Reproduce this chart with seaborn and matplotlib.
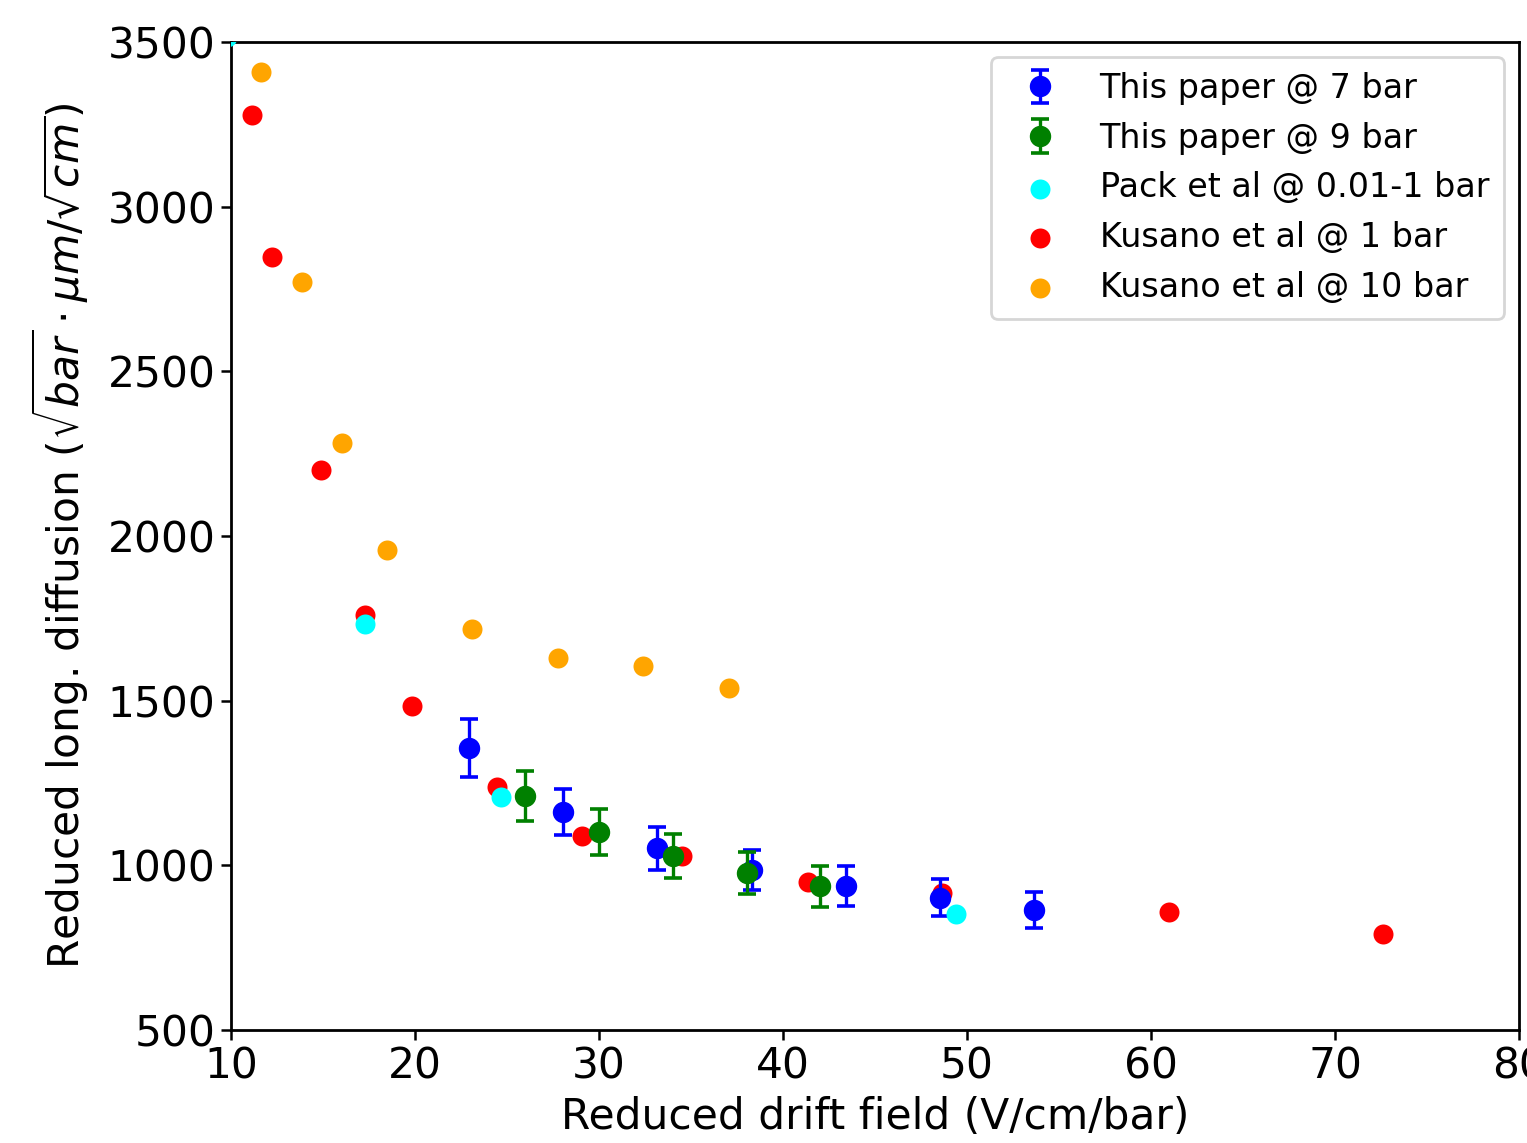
import matplotlib
matplotlib.use("Agg")
import matplotlib.pyplot as plt
import seaborn as sns
import numpy as np
import pandas as pd

# ---- data ----
p7_x = [22.93, 28.04, 33.15, 38.30, 43.42, 48.53, 53.64]
p7_y = [1356, 1162, 1052, 986, 937, 901, 864]
p7_err = [88, 71, 65, 62, 60, 56, 55]

p9_x = [25.98, 30.00, 34.02, 38.04, 42.00]
p9_y = [1210, 1101, 1028, 976, 937]
p9_err = [76, 70, 67, 64, 62]

pack_x = [9.78, 17.28, 24.67, 49.40]
pack_y = [3514, 1733, 1207, 852]

kus1_x = [11.14, 12.23, 14.89, 17.28, 19.84, 24.46, 29.08, 34.50, 41.36, 48.64, 60.98, 72.60]
kus1_y = [3278, 2847, 2200, 1760, 1484, 1238, 1089, 1028, 949, 916, 858, 791]

kus10_x = [11.63, 13.86, 16.03, 18.48, 23.10, 27.77, 32.39, 37.07]
kus10_y = [3409, 2771, 2282, 1957, 1717, 1629, 1605, 1538]

labels = ["This paper @ 7 bar", "This paper @ 9 bar", "Pack et al @ 0.01-1 bar",
          "Kusano et al @ 1 bar", "Kusano et al @ 10 bar"]
xticks = [10, 20, 30, 40, 50, 60, 70, 80]
yticks = [500, 1000, 1500, 2000, 2500, 3000, 3500]

sns.set_style("ticks")
plt.rcParams['font.family'] = ['DejaVu Sans']
plt.rcParams['mathtext.fontset'] = 'dejavusans'
for k in ['text.color', 'axes.labelcolor', 'xtick.color', 'ytick.color', 'axes.edgecolor']:
    plt.rcParams[k] = 'black'

fig = plt.figure(figsize=(15.27, 11.43), dpi=100)
ax = fig.add_axes([231/1527, 1 - 1030/1143, (1519-231)/1527, (1030-42)/1143])

ms = 14.4
s = ms**2

h7 = ax.errorbar(p7_x, p7_y, yerr=p7_err, fmt='o', color='blue', ms=ms,
                 elinewidth=2.4, capsize=6.5, capthick=2.6, zorder=2, label=labels[0])
h9 = ax.errorbar(p9_x, p9_y, yerr=p9_err, fmt='o', color='green', ms=ms,
                 elinewidth=2.4, capsize=6.5, capthick=2.6, zorder=2.1, label=labels[1])

df_pack = pd.DataFrame({"x": pack_x, "y": pack_y})
df_k1 = pd.DataFrame({"x": kus1_x, "y": kus1_y})
df_k10 = pd.DataFrame({"x": kus10_x, "y": kus10_y})

sns.scatterplot(data=df_k1, x="x", y="y", ax=ax, color='red', s=s, linewidth=0,
                zorder=1, label=labels[3])
sns.scatterplot(data=df_k10, x="x", y="y", ax=ax, color='orange', s=s, linewidth=0,
                zorder=1, label=labels[4])
sns.scatterplot(data=df_pack, x="x", y="y", ax=ax, color='cyan', s=s, linewidth=0,
                zorder=3, label=labels[2])

ax.set_xlim(10, 80)
ax.set_ylim(500, 3500)
ax.set_xticks(xticks)
ax.set_yticks(yticks)
ax.tick_params(axis='both', labelsize=30.5, length=7, width=1.8, direction='out', pad=4)
for sp in ax.spines.values():
    sp.set_linewidth(2.0)
    sp.set_color('black')
    sp.set_visible(True)

ax.set_xlabel("Reduced drift field (V/cm/bar)", fontsize=30.5, labelpad=6)
ax.set_ylabel(r"Reduced long. diffusion ($\sqrt{bar}\cdot\mu m/\sqrt{cm}$)", fontsize=30.5, labelpad=12)

handles, labs = ax.get_legend_handles_labels()
hd = dict(zip(labs, handles))
leg = ax.legend([hd[l] for l in labels], labels, loc='upper right', fontsize=24,
                frameon=True, borderaxespad=0.45, handletextpad=0.8, labelspacing=0.5,
                borderpad=0.45)
leg.get_frame().set_edgecolor('#cccccc')
leg.get_frame().set_linewidth(2)

fig.savefig("out.png", dpi=100)
